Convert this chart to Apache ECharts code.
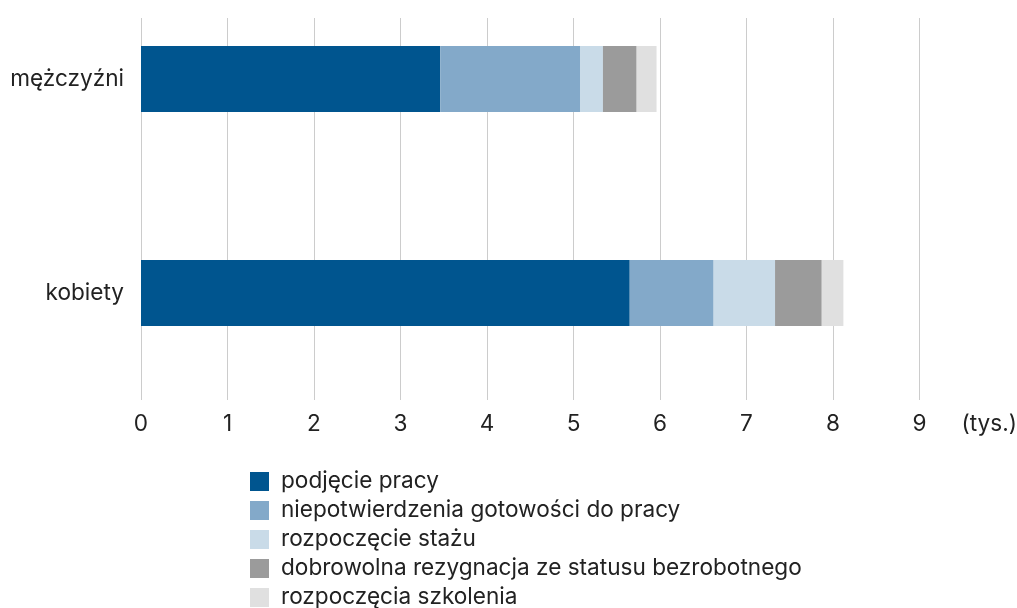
<!DOCTYPE html>
<html>
<head>
<meta charset="utf-8">
<script src="https://cdn.jsdelivr.net/npm/echarts@6/dist/echarts.min.js"></script>
<style>html,body{margin:0;padding:0;background:#fff}#c{width:1017px;height:608px}</style>
</head>
<body>
<div id="c"></div>
<script>
const categories = ['mężczyźni', 'kobiety'];
const seriesNames = ['podjęcie pracy', 'niepotwierdzenia gotowości do pracy', 'rozpoczęcie stażu', 'dobrowolna rezygnacja ze statusu bezrobotnego', 'rozpoczęcia szkolenia'];
const podjeciePracy = [3.46, 5.65];
const niepotwierdzenia = [1.62, 0.97];
const rozpoczecieStazu = [0.26, 0.71];
const dobrowolnaRezygnacja = [0.39, 0.54];
const rozpoczeciaSzkolenia = [0.23, 0.25];
const xTicks = [0, 1, 2, 3, 4, 5, 6, 7, 8, 9];
const unitLabel = '(tys.)';

const colors = ['#00558f', '#83a9c9', '#c9dbe8', '#9b9b9b', '#e0e0e0'];
const values = [podjeciePracy, niepotwierdzenia, rozpoczecieStazu, dobrowolnaRezygnacja, rozpoczeciaSzkolenia];
const font = 'Inter, "Noto Sans", sans-serif';
const fs = 22.6;

const chart = echarts.init(document.getElementById('c'), null, {renderer: 'canvas'});
chart.setOption({
  animation: false,
  backgroundColor: '#fff',
  grid: [
    {left: 141, right: 97.5, top: -28, bottom: 208, outerBoundsMode: 'none'},
    {left: 141, right: 97.5, top: 18, bottom: 208, outerBoundsMode: 'none'}
  ],
  legend: {
    orient: 'vertical',
    left: 245,
    top: 465,
    height: 300,
    itemWidth: 19,
    itemHeight: 19,
    itemGap: 6,
    icon: 'rect',
    textStyle: {fontSize: fs, color: '#222', fontFamily: font, padding: [0, 0, 0, 7]},
    data: seriesNames
  },
  xAxis: [
    {gridIndex: 0, type: 'value', min: 0, max: 9, interval: 1, show: false},
    {
      gridIndex: 1, type: 'value', min: 0, max: 9, interval: 1,
      axisLine: {show: false}, axisTick: {show: false},
      splitLine: {show: true, lineStyle: {color: '#cccccc', width: 1}},
      axisLabel: {
        fontSize: fs, color: '#222', fontFamily: font, margin: 13,
        formatter: v => String(xTicks[v] !== undefined ? xTicks[v] : v)
      },
      name: unitLabel,
      nameLocation: 'end',
      nameGap: 42,
      nameTextStyle: {fontSize: fs, color: '#222', fontFamily: font, verticalAlign: 'top', padding: [13, 0, 0, 0]}
    }
  ],
  yAxis: [
    {
      gridIndex: 0, type: 'category', data: categories, inverse: true,
      axisLine: {show: false}, axisTick: {show: false},
      axisLabel: {fontSize: fs, color: '#222', fontFamily: font, margin: 17}
    },
    {gridIndex: 1, type: 'value', show: false, min: 0, max: 1}
  ],
  series: values.map((arr, i) => ({
    name: seriesNames[i],
    type: 'bar',
    stack: 'total',
    xAxisIndex: 0,
    yAxisIndex: 0,
    barWidth: 66,
    itemStyle: {color: colors[i]},
    data: arr
  }))
});
</script>
</body>
</html>
